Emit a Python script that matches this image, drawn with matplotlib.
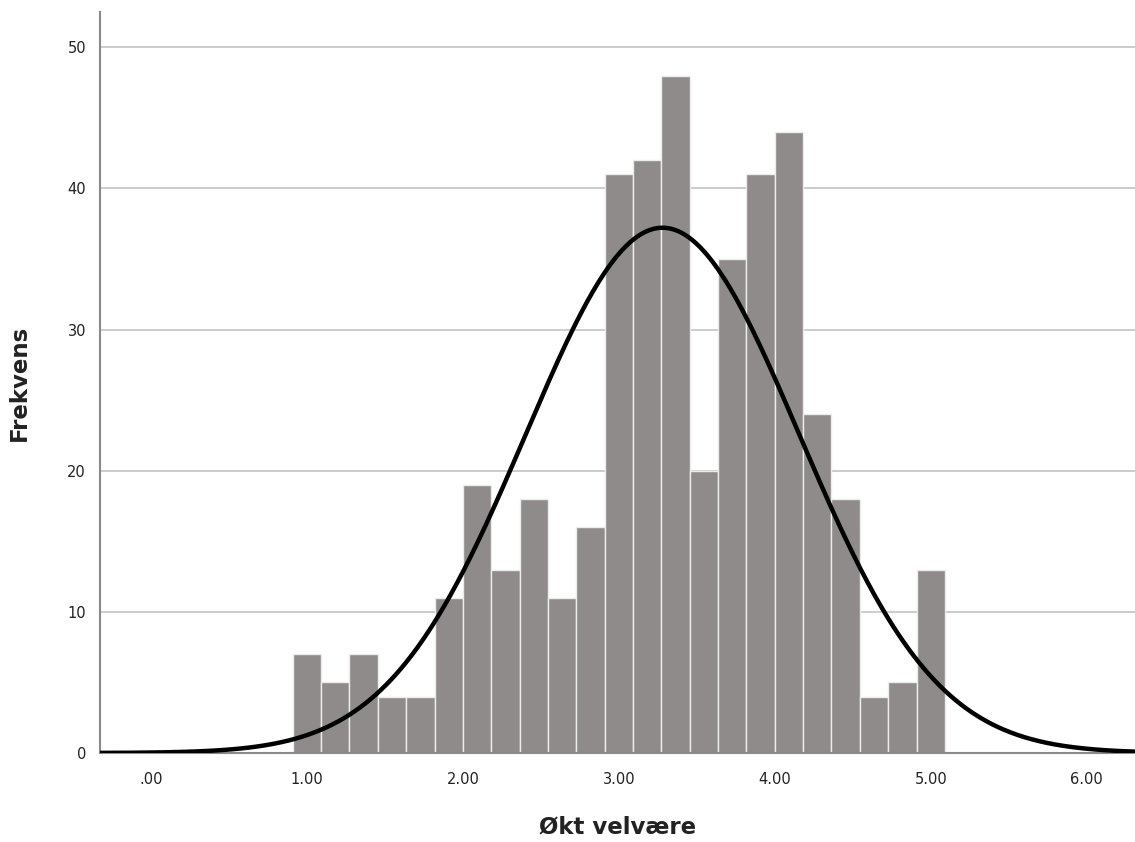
import numpy as np
import matplotlib
matplotlib.use("Agg")
import matplotlib.pyplot as plt

# histogram of "Økt velvære" (bins centred at 1.00 ... 5.00)
bin_centers = np.linspace(1.0, 5.0, 23)
counts = [7, 5, 7, 4, 4, 11, 19, 13, 18, 11, 16, 41, 42, 48, 20, 35, 41, 44, 24, 18, 4, 5, 13]
bin_width = 4.0 / 22

# fitted normal curve parameters
mean = 3.28
sd = 0.877
n_total = sum(counts)

xticks = [0, 1, 2, 3, 4, 5, 6]
xtick_labels = ['.00', '1.00', '2.00', '3.00', '4.00', '5.00', '6.00']
yticks = [0, 10, 20, 30, 40, 50]

fig = plt.figure(figsize=(11.35, 8.42), dpi=100)
ax = fig.add_axes([0.0881, 0.1057, 0.9119, 0.88])

ax.bar(bin_centers, counts, width=bin_width, color='#8f8b8a',
       edgecolor='#ececec', linewidth=1.0, zorder=2)

xs = np.linspace(-0.4, 6.4, 600)
ys = n_total * bin_width / (sd * np.sqrt(2 * np.pi)) * np.exp(-0.5 * ((xs - mean) / sd) ** 2)
ax.plot(xs, ys, color='black', lw=3.2, zorder=3)

ax.set_xlim(-0.327, 6.31)
ax.set_ylim(0, 52.5)
ax.set_xticks(xticks)
ax.set_xticklabels(xtick_labels)
ax.set_yticks(yticks)
ax.tick_params(length=0, labelsize=10.5, colors='#222222', pad=10)
ax.tick_params(axis='x', pad=14)

ax.yaxis.grid(True, color='#cccccc', lw=1.4, zorder=1)
ax.set_axisbelow(True)
for s in ['top', 'right']:
    ax.spines[s].set_visible(False)
for s in ['left', 'bottom']:
    ax.spines[s].set_color('#8a8a8a')
    ax.spines[s].set_linewidth(1.5)

ax.set_xlabel('Økt velvære', fontsize=16.5, fontweight='bold', labelpad=20, color='#222222')
ax.set_ylabel('Frekvens', fontsize=16.5, fontweight='bold', labelpad=26, color='#222222')

fig.savefig('out.png', dpi=100)
